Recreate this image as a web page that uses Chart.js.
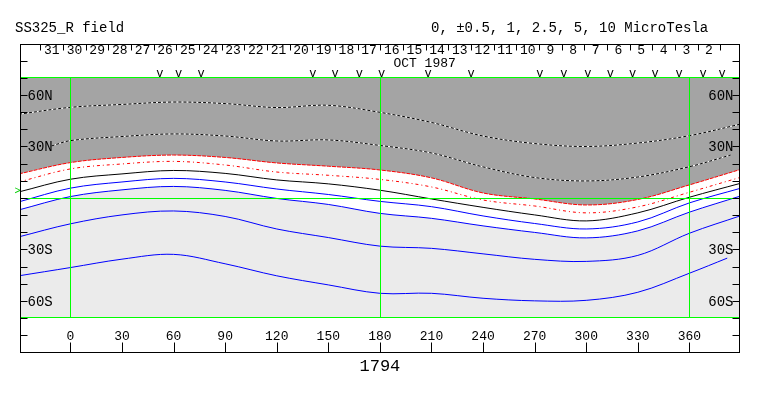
<!DOCTYPE html>
<html>
<head>
<meta charset="utf-8">
<script src="https://cdn.jsdelivr.net/npm/chart.js@4"></script>
<style>
  html, body { margin: 0; padding: 0; background: #fff; }
  canvas { display: block; }
</style>
</head>
<body>
<canvas id="fieldChart" width="763" height="396"></canvas>
<script>
const lons   = [-30, 0, 30, 60, 90, 120, 150, 180, 210, 240, 270, 300, 330, 360, 390];
const lonsC25 = [-11, 0, 30, 60, 90, 120, 150, 180, 210, 240, 270, 300, 330, 360, 384];
const lonsN5  = [-30, 0, 30, 60, 90, 120, 150, 180, 210, 240, 270, 300, 330, 360, 382];

// contour latitudes (deg), one array per level
const c5   = [48.8, 52.8, 54.5, 55.9, 55.0, 52.7, 54.0, 49.9, 44.0, 36.1, 31.7, 30.0, 32.0, 36.3, 43.1];
const c25  = [30.3, 33.4, 35.8, 37.3, 36.1, 33.2, 33.8, 30.6, 26.2, 18.1, 11.9, 9.9, 12.2, 18.2, 25.0];
const c1   = [14.0, 20.6, 23.6, 25.0, 23.6, 20.4, 18.5, 16.3, 11.7, 2.9, -0.6, -4.1, -0.9, 7.6, 16.7];
const c05  = [9.3, 16.9, 19.8, 21.3, 19.2, 15.1, 13.2, 10.8, 6.4, -1.2, -4.7, -8.7, -5.2, 3.3, 12.1];
const c0   = [3.5, 10.9, 14.0, 16.0, 14.3, 10.5, 8.2, 4.5, -0.6, -5.5, -9.9, -13.4, -8.7, 0.4, 8.6];
const n05  = [-2.3, 5.7, 9.3, 11.4, 9.3, 5.2, 2.0, -2.0, -5.1, -10.5, -14.9, -18.1, -14.0, -2.9, 5.7];
const n1   = [-7.0, 0.8, 4.7, 6.7, 4.4, -0.3, -3.8, -9.0, -11.9, -16.3, -20.1, -23.3, -19.2, -8.3, 1.2];
const n25  = [-22.7, -15.1, -9.9, -7.6, -10.8, -18.1, -23.1, -28.1, -29.4, -32.6, -35.8, -37.0, -33.5, -20.6, -10.3];
const n5   = [-45.4, -40.6, -35.7, -32.9, -38.4, -45.4, -50.7, -55.6, -55.6, -58.5, -60.0, -59.7, -55.0, -43.9, -35.1];

// axes / annotations
const lonTicks = [0, 30, 60, 90, 120, 150, 180, 210, 240, 270, 300, 330, 360];
const latLabels = [60, 30, -30, -60];
const gridLons = [0, 180, 360];
const days = [31, 30, 29, 28, 27, 26, 25, 24, 23, 22, 21, 20, 19, 18, 17, 16, 15, 14, 13, 12, 11, 10, 9, 8, 7, 6, 5, 4, 3, 2];
const dayFirstLon = -17.4, dayLastLon = 378.0;
const passLons = [52, 63, 76, 141, 154, 168, 181, 208, 233, 273, 287, 301, 314, 327, 340, 354, 368, 379];
const markerLat = 4;

const FONT = "'Liberation Mono', 'DejaVu Sans Mono', monospace";

function pts(xs, ys) {
    return xs.map((x, i) => ({ x: x, y: ys[i] }));
}

function line(data, color, dash, extra) {
    return Object.assign({
        data: data,
        borderColor: color,
        borderWidth: 1,
        borderDash: dash || [],
        pointRadius: 0,
        tension: 0.35,
        fill: false
    }, extra || {});
}

const framePlugin = {
    id: 'frame',
    beforeDraw(chart) {
        const { ctx, chartArea: a } = chart;
        ctx.save();
        ctx.fillStyle = '#ebebeb';
        ctx.fillRect(a.left, a.top, a.right - a.left, a.bottom - a.top);
        ctx.restore();
    },
    afterDatasetsDraw(chart) {
        const { ctx, chartArea: a, scales } = chart;
        const h = v => Math.round(v) + 0.5;
        ctx.save();
        ctx.strokeStyle = '#00ff00';
        ctx.lineWidth = 1;
        ctx.beginPath();
        [a.top, scales.y.getPixelForValue(0), a.bottom - 1].forEach(y => {
            ctx.moveTo(a.left, h(y)); ctx.lineTo(a.right, h(y));
        });
        gridLons.forEach(l => {
            const x = h(scales.x.getPixelForValue(l));
            ctx.moveTo(x, a.top); ctx.lineTo(x, a.bottom);
        });
        ctx.stroke();
        ctx.restore();
    },
    afterDraw(chart) {
        const { ctx, chartArea: a, scales } = chart;
        const X = v => scales.x.getPixelForValue(v);
        const Y = v => scales.y.getPixelForValue(v);
        const h = v => Math.round(v) + 0.5;
        const top = h(Y(90)), bot = h(Y(-90)), L = h(a.left), R = h(a.right - 1);

        ctx.save();
        ctx.strokeStyle = '#000';
        ctx.fillStyle = '#000';
        ctx.lineWidth = 1;

        // outer box
        ctx.strokeRect(L, top, R - L, bot - top);

        // latitude ticks both sides
        ctx.beginPath();
        for (let lat = -80; lat <= 80; lat += 10) {
            const y = h(Y(lat));
            ctx.moveTo(L, y); ctx.lineTo(L + 7, y);
            ctx.moveTo(R, y); ctx.lineTo(R - 7, y);
        }
        // longitude ticks on bottom line
        lonTicks.forEach(l => {
            const x = h(X(l));
            ctx.moveTo(x, bot); ctx.lineTo(x, bot - 10);
        });
        // day boundaries in top band
        const step = (dayLastLon - dayFirstLon) / days.length;
        for (let k = 0; k <= days.length; k++) {
            const x = h(X(dayFirstLon + k * step));
            ctx.moveTo(x, top); ctx.lineTo(x, top + 6);
        }
        ctx.stroke();

        ctx.textBaseline = 'middle';
        // lat labels
        ctx.font = '14px ' + FONT;
        latLabels.forEach(lat => {
            const t = Math.abs(lat) + (lat > 0 ? 'N' : 'S');
            const y = Y(lat) + 1;
            ctx.textAlign = 'left';
            ctx.fillText(t, L + 7, y);
            ctx.textAlign = 'right';
            ctx.fillText(t, R - 6, y);
        });

        // lon labels
        ctx.font = '13px ' + FONT;
        ctx.textAlign = 'center';
        lonTicks.forEach(l => ctx.fillText(String(l), X(l), bot - 16));

        // day numbers
        ctx.font = '13px ' + FONT;
        days.forEach((d, k) => {
            const x = X(dayFirstLon + (k + 0.5) * step);
            ctx.fillText(String(d), x, top + 6);
        });
        ctx.fillText('OCT 1987', X(206), top + 19);

        // pass markers
        ctx.font = '12px ' + FONT;
        passLons.forEach(l => ctx.fillText('v', X(l), a.top - 3));

        // subsolar marker
        ctx.fillStyle = '#00cc00';
        ctx.font = '10px ' + FONT;
        ctx.textAlign = 'right';
        ctx.fillText('>', L, Y(markerLat));

        // titles
        ctx.fillStyle = '#000';
        ctx.font = '14px ' + FONT;
        ctx.textAlign = 'left';
        ctx.fillText('SS325_R field', 15, 28);
        ctx.fillText('0, \u00b10.5, 1, 2.5, 5, 10 MicroTesla', 431, 28);

        ctx.font = '17px ' + FONT;
        ctx.textAlign = 'center';
        ctx.fillText('1794', X(180), bot + 14);
        ctx.restore();
    }
};

const ctx = document.getElementById('fieldChart').getContext('2d');
new Chart(ctx, {
    type: 'line',
    data: {
        datasets: [
            line(pts(lons, c5), '#000000', [3, 2]),
            line(pts(lons, c5), '#ffffff'),
            line(pts(lonsC25, c25), '#000000', [3, 2]),
            line(pts(lonsC25, c25), '#ffffff'),
            line(pts(lons, c1), '#ff0000', [4, 1], { fill: 'end', backgroundColor: '#a4a4a4' }),
            line(pts(lons, c05), '#ff0000', [3, 3, 1, 3]),
            line(pts(lons, c0), '#000000'),
            line(pts(lons, n05), '#0000ff'),
            line(pts(lons, n1), '#0000ff', [], { fill: 'end', backgroundColor: '#ffffff' }),
            line(pts(lons, n25), '#0000ff'),
            line(pts(lonsN5, n5), '#0000ff')
        ]
    },
    options: {
        responsive: false,
        animation: false,
        layout: { padding: { left: 20, right: 23, top: 77, bottom: 78 } },
        scales: {
            x: { type: 'linear', min: -29.31, max: 389.43, display: false },
            y: { type: 'linear', min: -70, max: 70.5, display: false }
        },
        plugins: {
            legend: { display: false },
            tooltip: { enabled: false },
            filler: { drawTime: 'beforeDatasetsDraw' }
        }
    },
    plugins: [framePlugin]
});
</script>
</body>
</html>
